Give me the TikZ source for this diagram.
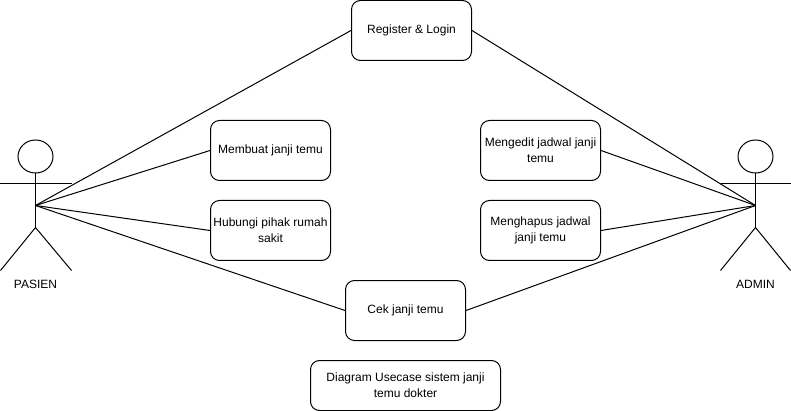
\documentclass[tikz,border=0pt]{standalone}
\usepackage{fontspec}
\setmainfont{Liberation Sans}
\usetikzlibrary{positioning,shapes.geometric}

\begin{document}
\begin{tikzpicture}[x=1pt,y=-1pt,line width=1pt,
	usecase/.style={draw,rounded corners=9pt,minimum width=120pt,minimum height=60pt,align=center,inner sep=0pt,font=\fontsize{12}{16}\selectfont},
	actorhead/.style={draw,ellipse,minimum width=35pt,minimum height=33pt,inner sep=0pt},
	actorname/.style={inner sep=0pt,font=\fontsize{12}{16}\selectfont}]
	\useasboundingbox (-0.5,-0.5) rectangle (790.5,410.5);

	\node[usecase] (register) at (411, 30) {Register \& Login};
	\node[usecase] (membuat) at (270, 150) {Membuat janji temu};
	\node[usecase] (hubungi) at (270, 230) {Hubungi pihak rumah\\sakit};
	\node[usecase] (mengedit) at (540, 150) {Mengedit jadwal janji\\temu};
	\node[usecase] (menghapus) at (540, 230) {Menghapus jadwal\\janji temu};
	\node[usecase] (cek) at (405, 310) {Cek janji temu};
	\node[usecase,minimum width=190pt,minimum height=50pt] (judul) at (405, 385) {Diagram Usecase sistem janji\\temu dokter};

	% pasien
	\node[actorhead] (headP) at (35, 156) {};
	\coordinate (waistP) at (35, 205);
	\coordinate (hipP) at (35, 227);
	\coordinate (armLP) at (0, 183);
	\coordinate (armRP) at (71, 183);
	\coordinate (footLP) at (0, 270);
	\coordinate (footRP) at (71, 270);
	\node[actorname] (pasien) at (35, 283.5) {PASIEN};

	% admin
	\node[actorhead] (headA) at (755, 156) {};
	\coordinate (waistA) at (755, 205);
	\coordinate (hipA) at (755, 227);
	\coordinate (armLA) at (720, 183);
	\coordinate (armRA) at (790, 183);
	\coordinate (footLA) at (720, 270);
	\coordinate (footRA) at (790, 270);
	\node[actorname] (admin) at (755, 283.5) {ADMIN};

	\draw (headP) -- (hipP);
	\draw (armLP) -- (armRP);
	\draw (footLP) -- (hipP) -- (footRP);
	\draw (headA) -- (hipA);
	\draw (armLA) -- (armRA);
	\draw (footLA) -- (hipA) -- (footRA);

	\draw (waistP) -- (register.west);
	\draw (waistP) -- (membuat.west);
	\draw (waistP) -- (hubungi.west);
	\draw (waistP) -- (cek.west);
	\draw (waistA) -- (register.east);
	\draw (waistA) -- (mengedit.east);
	\draw (waistA) -- (menghapus.east);
	\draw (waistA) -- (cek.east);
\end{tikzpicture}
\end{document}
